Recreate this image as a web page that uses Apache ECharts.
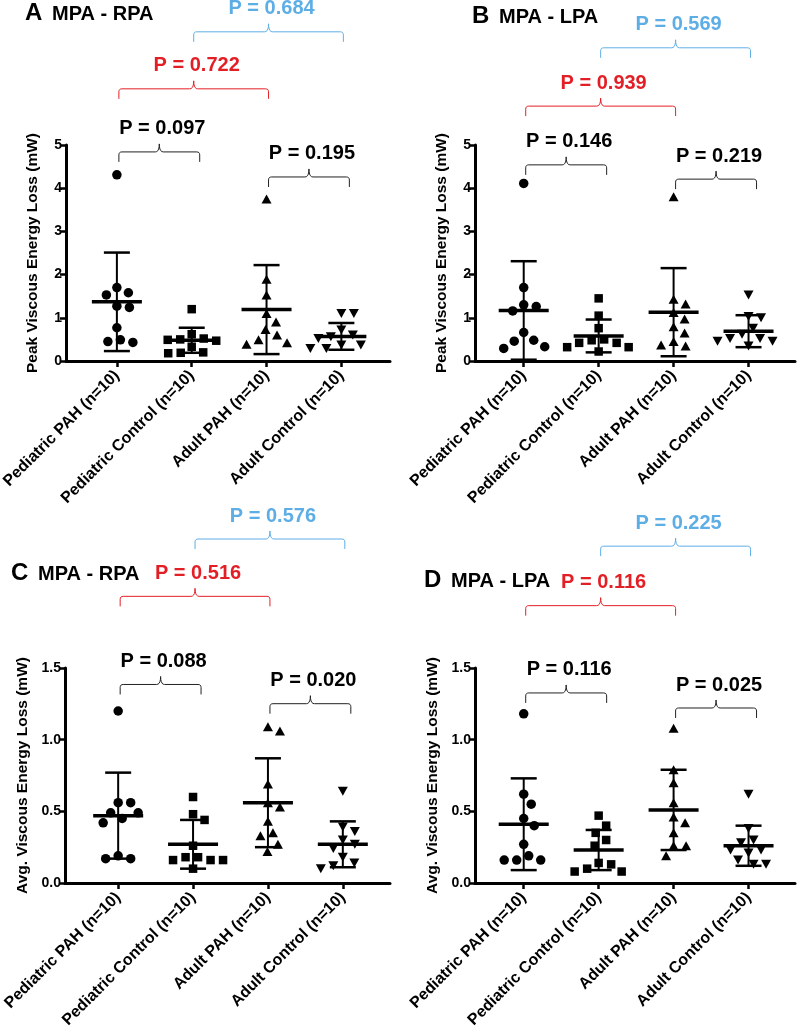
<!DOCTYPE html>
<html><head><meta charset="utf-8">
<script src="https://cdn.jsdelivr.net/npm/echarts@6/dist/echarts.min.js"></script>
<style>html,body{margin:0;padding:0;background:#fff}#c{width:800px;height:1036px}</style>
</head><body><div id="c"></div>
<script>
// ---------------- DATA ----------------
const categories = ['Pediatric PAH (n=10)', 'Pediatric Control (n=10)', 'Adult PAH (n=10)', 'Adult Control (n=10)'];

// Panel A: MPA - RPA, peak viscous energy loss (mW)
const A_pedPAH  = [4.31, 1.70, 1.58, 1.53, 1.27, 1.24, 0.77, 0.49, 0.45, 0.43];
const A_pedCtrl = [1.20, 0.52, 0.50, 0.49, 0.47, 0.62, 0.33, 0.20, 0.19, 0.18];
const A_adPAH   = [3.75, 1.89, 1.53, 1.10, 0.90, 0.73, 0.60, 0.49, 0.42, 0.39];
const A_adCtrl  = [1.10, 1.10, 0.72, 0.60, 0.56, 0.52, 0.37, 0.37, 0.29, 0.29];
const A_means   = [1.37, 0.48, 1.19, 0.57];
const A_sds     = [1.14, 0.29, 1.03, 0.31];
const A_pvals   = ['0.097', '0.195', '0.722', '0.684'];

// Panel B: MPA - LPA, peak viscous energy loss (mW)
const B_pedPAH  = [4.11, 1.70, 1.30, 1.26, 1.16, 0.66, 0.48, 0.46, 0.33, 0.29];
const B_pedCtrl = [1.45, 1.05, 0.76, 0.50, 0.48, 0.42, 0.42, 0.32, 0.32, 0.22];
const B_adPAH   = [3.80, 1.43, 1.32, 1.12, 0.97, 0.79, 0.65, 0.45, 0.37, 0.35];
const B_adCtrl  = [1.53, 1.03, 1.00, 0.76, 0.62, 0.52, 0.52, 0.46, 0.46, 0.35];
const B_means   = [1.17, 0.58, 1.13, 0.69];
const B_sds     = [1.14, 0.38, 1.02, 0.37];
const B_pvals   = ['0.146', '0.219', '0.939', '0.569'];

// Panel C: MPA - RPA, average viscous energy loss (mW)
const C_pedPAH  = [1.20, 0.56, 0.56, 0.49, 0.49, 0.45, 0.42, 0.19, 0.17, 0.17];
const C_pedCtrl = [0.60, 0.48, 0.44, 0.26, 0.18, 0.18, 0.16, 0.16, 0.16, 0.10];
const C_adPAH   = [1.09, 1.06, 0.69, 0.56, 0.53, 0.43, 0.35, 0.33, 0.27, 0.22];
const C_adCtrl  = [0.64, 0.39, 0.36, 0.30, 0.27, 0.24, 0.18, 0.14, 0.12, 0.10];
const C_means   = [0.47, 0.27, 0.56, 0.27];
const C_sds     = [0.30, 0.17, 0.31, 0.16];
const C_pvals   = ['0.088', '0.020', '0.516', '0.576'];

// Panel D: MPA - LPA, average viscous energy loss (mW)
const D_pedPAH  = [1.18, 0.62, 0.55, 0.45, 0.40, 0.27, 0.19, 0.16, 0.16, 0.16];
const D_pedCtrl = [0.47, 0.40, 0.35, 0.30, 0.26, 0.14, 0.13, 0.10, 0.08, 0.08];
const D_adPAH   = [1.08, 0.79, 0.70, 0.56, 0.46, 0.42, 0.35, 0.26, 0.26, 0.19];
const D_adCtrl  = [0.62, 0.38, 0.30, 0.28, 0.23, 0.23, 0.21, 0.16, 0.13, 0.13];
const D_means   = [0.41, 0.23, 0.51, 0.26];
const D_sds     = [0.32, 0.14, 0.28, 0.14];
const D_pvals   = ['0.116', '0.025', '0.116', '0.225'];

// ---------------- LAYOUT / STYLE ----------------
const FONT = '"Liberation Sans", Arial, Helvetica, sans-serif';
const RED = '#e31f26', BLUE = '#5eaee6', BLK = '#222';
const bracketPairs = [[0, 1], [2, 3], [0, 2], [1, 3]];
const bracketColors = [BLK, BLK, RED, BLUE];
const symbols = [
  {symbol: 'circle', size: 9.5, rotate: 0},
  {symbol: 'rect', size: 8.5, rotate: 0},
  {symbol: 'triangle', size: [10, 9], rotate: 0},
  {symbol: 'triangle', size: [10, 9], rotate: 180}
];

const panels = [
  {letter: 'A', title: 'MPA - RPA', yName: 'Peak Viscous Energy Loss (mW)',
   groups: [A_pedPAH, A_pedCtrl, A_adPAH, A_adCtrl], means: A_means, sds: A_sds, pvals: A_pvals,
   grid: {left: 66, top: 145, width: 324, height: 216}, xMin: -0.68, xMax: 3.65,
   yMax: 5, yInt: 1, dec: 0, nameGap: 25, levels: [4.84, 4.26, 6.30, 7.62], tx: 25, ty: 13},
  {letter: 'B', title: 'MPA - LPA', yName: 'Peak Viscous Energy Loss (mW)',
   groups: [B_pedPAH, B_pedCtrl, B_adPAH, B_adCtrl], means: B_means, sds: B_sds, pvals: B_pvals,
   grid: {left: 475, top: 145, width: 320, height: 216}, xMin: -0.65, xMax: 3.62,
   yMax: 5, yInt: 1, dec: 0, nameGap: 25, levels: [4.54, 4.21, 5.90, 7.25], tx: 472, ty: 16},
  {letter: 'C', title: 'MPA - RPA', yName: 'Avg. Viscous Energy Loss (mW)',
   groups: [C_pedPAH, C_pedCtrl, C_adPAH, C_adCtrl], means: C_means, sds: C_sds, pvals: C_pvals,
   grid: {left: 65, top: 668, width: 325, height: 215}, xMin: -0.71, xMax: 3.63,
   yMax: 1.5, yInt: 0.5, dec: 1, nameGap: 34, levels: [1.385, 1.251, 2.00, 2.40], tx: 11, ty: 573},
  {letter: 'D', title: 'MPA - LPA', yName: 'Avg. Viscous Energy Loss (mW)',
   groups: [D_pedPAH, D_pedCtrl, D_adPAH, D_adCtrl], means: D_means, sds: D_sds, pvals: D_pvals,
   grid: {left: 475, top: 668, width: 320, height: 215}, xMin: -0.65, xMax: 3.62,
   yMax: 1.5, yInt: 0.5, dec: 1, nameGap: 34, levels: [1.326, 1.221, 1.935, 2.35], tx: 424, ty: 580}
];

// beeswarm-style horizontal spread (pixel offsets), computed from values
function swarm(values, pxPerY, D) {
  const order = values.map((v, i) => i).sort((a, b) => values[b] - values[a]);
  const placed = [];
  const off = new Array(values.length).fill(0);
  for (const i of order) {
    const y = values[i] * pxPerY;
    let dx = 0;
    for (let k = 0; k < 400; k++) {
      const cand = (k % 2 === 1 ? 1 : -1) * Math.ceil(k / 2) * 0.5;
      let ok = true;
      for (const p of placed) {
        const ddx = cand - p.x, ddy = y - p.y;
        if (ddx * ddx + ddy * ddy < D * D) { ok = false; break; }
      }
      if (ok) { dx = cand; break; }
    }
    placed.push({x: dx, y: y});
    off[i] = dx;
  }
  return off;
}

function quad(pts, p0, c, p1, n) {
  for (let t = 1; t <= n; t++) {
    const s = t / n;
    pts.push([(1 - s) * (1 - s) * p0[0] + 2 * (1 - s) * s * c[0] + s * s * p1[0],
              (1 - s) * (1 - s) * p0[1] + 2 * (1 - s) * s * c[1] + s * s * p1[1]]);
  }
}

const grids = [], xAxes = [], yAxes = [], series = [], graphics = [];

panels.forEach((p, pi) => {
  grids.push(Object.assign({containLabel: false, outerBoundsMode: 'none'}, p.grid));
  xAxes.push({
    type: 'value', gridIndex: pi, min: p.xMin, max: p.xMax,
    axisLine: {show: true, onZero: false, lineStyle: {color: '#000', width: 3}},
    axisTick: {show: true, customValues: [0, 1, 2, 3], length: 6, lineStyle: {color: '#000', width: 2.5}},
    axisLabel: {show: true, customValues: [0, 1, 2, 3], rotate: 45, margin: 12,
      formatter: v => categories[Math.round(v)] || '',
      color: '#000', fontWeight: 'bold', fontSize: 16, fontFamily: FONT},
    splitLine: {show: false}
  });
  yAxes.push({
    type: 'value', gridIndex: pi, min: 0, max: p.yMax, interval: p.yInt,
    name: p.yName, nameLocation: 'middle', nameGap: p.nameGap, nameRotate: 90,
    nameTextStyle: {color: '#000', fontWeight: 'bold', fontSize: 15.5, fontFamily: FONT},
    axisLine: {show: true, onZero: false, lineStyle: {color: '#000', width: 3}},
    axisTick: {show: true, length: 6, lineStyle: {color: '#000', width: 2.5}},
    axisLabel: {color: '#000', fontWeight: 'bold', fontSize: 14, fontFamily: FONT, margin: 4,
      formatter: v => v.toFixed(p.dec)},
    splitLine: {show: false}
  });

  const pxPerY = p.grid.height / p.yMax;
  const pxPerX = p.grid.width / (p.xMax - p.xMin);

  p.groups.forEach((vals, g) => {
    const off = swarm(vals, pxPerY, 12.5);
    const sym = symbols[g];
    series.push({
      type: 'scatter', xAxisIndex: pi, yAxisIndex: pi, silent: true, animation: false,
      symbol: sym.symbol, symbolSize: sym.size, symbolRotate: sym.rotate,
      itemStyle: {color: '#000', opacity: 1},
      data: vals.map((v, k) => [g + off[k] / pxPerX, v]),
      z: 2
    });
  });

  // mean +/- SD
  series.push({
    type: 'custom', xAxisIndex: pi, yAxisIndex: pi, silent: true, animation: false, clip: false, z: 3,
    encode: {x: 0, y: 1},
    data: p.means.map((m, g) => [g, m, p.sds[g]]),
    renderItem: (params, api) => {
      const g = api.value(0), m = api.value(1), s = api.value(2);
      const c = api.coord([g, m]);
      const t = api.coord([g, m + s]);
      const b = api.coord([g, m - s]);
      const st = w => ({stroke: '#000', lineWidth: w});
      return {type: 'group', children: [
        {type: 'line', shape: {x1: c[0], y1: t[1], x2: c[0], y2: b[1]}, style: st(2)},
        {type: 'line', shape: {x1: c[0] - 13, y1: t[1], x2: c[0] + 13, y2: t[1]}, style: st(2.5)},
        {type: 'line', shape: {x1: c[0] - 13, y1: b[1], x2: c[0] + 13, y2: b[1]}, style: st(2.5)},
        {type: 'line', shape: {x1: c[0] - 25, y1: c[1], x2: c[0] + 25, y2: c[1]}, style: st(3.5)}
      ]};
    }
  });

  // significance brackets
  series.push({
    type: 'custom', xAxisIndex: pi, yAxisIndex: pi, silent: true, animation: false, clip: false, z: 4,
    encode: {x: 0, y: 2},
    data: bracketPairs.map((pr, k) => [pr[0], pr[1], p.levels[k], k]),
    renderItem: (params, api) => {
      const i = api.value(0), j = api.value(1), lv = api.value(2), k = api.value(3);
      const a = api.coord([i, lv]), bb = api.coord([j, lv]);
      const x1 = a[0] + 2, x2 = bb[0] + (k < 2 ? 8 : 2), y = a[1];
      const xm = (x1 + x2) / 2;
      const pts = [[x1, y + 10], [x1, y + 3]];
      quad(pts, [x1, y + 3], [x1, y], [x1 + 3, y], 4);
      pts.push([xm - 4, y]);
      quad(pts, [xm - 4, y], [xm, y], [xm, y - 8], 5);
      quad(pts, [xm, y - 8], [xm, y], [xm + 4, y], 5);
      pts.push([x2 - 3, y]);
      quad(pts, [x2 - 3, y], [x2, y], [x2, y + 3], 4);
      pts.push([x2, y + 10]);
      const col = bracketColors[k];
      return {type: 'group', children: [
        {type: 'polyline', shape: {points: pts}, style: {stroke: col, lineWidth: 1, fill: null}},
        {type: 'text', style: {text: 'P = ' + p.pvals[k], x: xm + 3, y: y - 23, align: 'center',
          verticalAlign: 'middle', font: 'bold 20px ' + FONT, fill: col === BLK ? '#000' : col}}
      ]};
    }
  });

  graphics.push({type: 'text', x: p.tx, y: p.ty, silent: true,
    style: {text: p.letter, font: 'bold 24px ' + FONT, fill: '#000', verticalAlign: 'middle'}});
  graphics.push({type: 'text', x: p.tx + 27, y: p.ty + 1, silent: true,
    style: {text: p.title, font: 'bold 20px ' + FONT, fill: '#000', verticalAlign: 'middle'}});
});

const chart = echarts.init(document.getElementById('c'), null, {renderer: 'canvas'});
chart.setOption({
  backgroundColor: '#fff',
  animation: false,
  grid: grids, xAxis: xAxes, yAxis: yAxes, series: series, graphic: graphics
});
</script>
</body></html>
